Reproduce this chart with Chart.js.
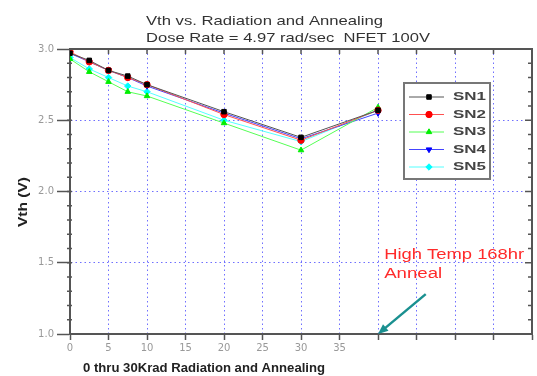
<!DOCTYPE html>
<html>
<head>
<meta charset="utf-8">
<script src="https://cdn.jsdelivr.net/npm/chart.js@4/dist/chart.umd.min.js"></script>
<style>
html,body{margin:0;padding:0;background:#fff;}
#wrap{width:537px;height:376px;position:relative;}
</style>
</head>
<body>
<div id="wrap"><canvas id="c" width="537" height="376"></canvas></div>
<script>
// Dose / anneal positions (krad; 40 = high-temp anneal)
const doses = [0, 2.5, 5, 7.5, 10, 20, 30, 40];
const sn1 = [2.97, 2.92, 2.85, 2.81, 2.75, 2.56, 2.38, 2.57];
const sn2 = [2.98, 2.91, 2.85, 2.80, 2.75, 2.54, 2.36, 2.57];
const sn3 = [2.93, 2.84, 2.77, 2.70, 2.67, 2.48, 2.29, 2.59];
const sn4 = [2.97, 2.91, 2.85, 2.80, 2.74, 2.55, 2.37, 2.55];
const sn5 = [2.94, 2.86, 2.80, 2.74, 2.70, 2.50, 2.35, 2.57];
const seriesNames = ['SN1', 'SN2', 'SN3', 'SN4', 'SN5'];
const xTickLabels = ['0', '5', '10', '15', '20', '25', '30', '35'];
const titleLines = ['Vth vs. Radiation and Annealing', 'Dose Rate = 4.97 rad/sec  NFET 100V'];
const xTitle = '0 thru 30Krad Radiation and Annealing';
const yTitle = 'Vth (V)';
const annoTextLines = ['High Temp 168hr', 'Anneal'];
const annoTextPos = [[40.8, 1.55], [40.8, 1.42]];
const annoArrow = [[46.2, 1.28], [40, 1.0]];

const colors = ['#000000', '#ff0000', '#00ee00', '#0000ff', '#00ffff'];
const lineColors = ['#555555', '#ff5050', '#55ff55', '#4444ff', '#55ffff'];
const styles = ['rect', 'circle', 'triangle', 'triangle', 'rectRot'];
const rots = [0, 0, 0, 180, 0];
const allSeries = [sn1, sn2, sn3, sn4, sn5];

const datasets = allSeries.map((s, i) => ({
  label: seriesNames[i],
  data: s.map((v, j) => ({x: doses[j], y: v})),
  borderColor: lineColors[i],
  backgroundColor: colors[i],
  pointBackgroundColor: colors[i],
  pointBorderColor: colors[i],
  pointStyle: styles[i],
  rotation: rots[i],
  pointRadius: 3.2,
  borderWidth: 1,
  tension: 0
}));

// draw text stretched horizontally to a given width
function fitText(ctx, text, x, y, w, font) {
  ctx.save();
  ctx.font = font;
  const m = ctx.measureText(text).width;
  ctx.translate(x, y);
  ctx.scale(w / m, 1);
  ctx.textAlign = 'left';
  ctx.textBaseline = 'middle';
  ctx.fillText(text, 0, 0);
  ctx.restore();
}

const FONT = '"Liberation Sans", Arial, sans-serif';

const decor = {
  id: 'decor',
  afterDraw(chart) {
    const ctx = chart.ctx, a = chart.chartArea;
    const xs = chart.scales.x, ys = chart.scales.y;
    ctx.save();
    // frame top & right
    ctx.strokeStyle = '#555';
    ctx.lineWidth = 2;
    ctx.beginPath();
    ctx.moveTo(a.left, a.top); ctx.lineTo(a.right, a.top); ctx.lineTo(a.right, a.bottom);
    ctx.stroke();
    // top ticks
    ctx.lineWidth = 1.5;
    for (let v = 5; v < 60; v += 5) {
      const px = xs.getPixelForValue(v);
      ctx.beginPath(); ctx.moveTo(px, a.top); ctx.lineTo(px, a.top + 5); ctx.stroke();
    }
    // minor y ticks left & right, right major ticks
    for (let k = 11; k < 30; k++) {
      const v = k / 10;
      const py = ys.getPixelForValue(v);
      const major = (k % 5 === 0);
      ctx.beginPath(); ctx.moveTo(a.left - 3, py); ctx.lineTo(a.left + 2, py); ctx.stroke();
      ctx.beginPath(); ctx.moveTo(a.right - (major ? 7 : 4), py); ctx.lineTo(a.right, py); ctx.stroke();
    }
    // titles
    ctx.fillStyle = '#333';
    fitText(ctx, titleLines[0], 146, 21, 237, '13px ' + FONT);
    fitText(ctx, titleLines[1], 146, 38, 284, '13px ' + FONT);
    // x axis title
    ctx.fillStyle = '#222';
    fitText(ctx, xTitle, 83, 369, 242, 'bold 12px ' + FONT);
    // y axis title
    ctx.save();
    ctx.translate(23, 227);
    ctx.rotate(-Math.PI / 2);
    fitText(ctx, yTitle, 0, 0, 50, 'bold 13px ' + FONT);
    ctx.restore();
    // annotation text
    ctx.fillStyle = '#ff2a2a';
    const annoW = [140, 58];
    annoTextLines.forEach((t, i) => {
      fitText(ctx, t, xs.getPixelForValue(annoTextPos[i][0]), ys.getPixelForValue(annoTextPos[i][1]), annoW[i], '14px ' + FONT);
    });
    // arrow
    const x1 = xs.getPixelForValue(annoArrow[0][0]), y1 = ys.getPixelForValue(annoArrow[0][1]);
    const x2 = xs.getPixelForValue(annoArrow[1][0]), y2 = ys.getPixelForValue(annoArrow[1][1]);
    const ang = Math.atan2(y2 - y1, x2 - x1);
    ctx.strokeStyle = '#1a9090';
    ctx.fillStyle = '#1a9090';
    ctx.lineWidth = 2.5;
    ctx.beginPath(); ctx.moveTo(x1, y1);
    ctx.lineTo(x2 - 8 * Math.cos(ang), y2 - 8 * Math.sin(ang)); ctx.stroke();
    ctx.beginPath();
    ctx.moveTo(x2, y2);
    ctx.lineTo(x2 - 11 * Math.cos(ang - 0.4), y2 - 11 * Math.sin(ang - 0.4));
    ctx.lineTo(x2 - 11 * Math.cos(ang + 0.4), y2 - 11 * Math.sin(ang + 0.4));
    ctx.closePath(); ctx.fill();
    // legend
    const bx = 404, by = 83, bw = 86, bh = 96;
    ctx.fillStyle = '#fff';
    ctx.fillRect(bx, by, bw, bh);
    ctx.strokeStyle = '#777';
    ctx.lineWidth = 2;
    ctx.strokeRect(bx, by, bw, bh);
    chart.data.datasets.forEach((ds, i) => {
      const yy = 97 + i * 17.5;
      ctx.strokeStyle = ds.borderColor;
      ctx.lineWidth = 1;
      ctx.beginPath(); ctx.moveTo(409, yy); ctx.lineTo(444, yy); ctx.stroke();
      ctx.fillStyle = ds.pointBackgroundColor;
      ctx.strokeStyle = ds.pointBorderColor;
      Chart.helpers.drawPoint(ctx, {pointStyle: ds.pointStyle, rotation: ds.rotation, radius: 3.2, borderWidth: 1}, 429, yy);
      ctx.fillStyle = '#444';
      fitText(ctx, ds.label, 453, yy, 33, 'bold 11px ' + FONT);
    });
    ctx.restore();
  }
};

const tickFont = {size: 10, family: '"DejaVu Sans"'};

new Chart(document.getElementById('c'), {
  type: 'line',
  data: {datasets},
  options: {
    responsive: false,
    animation: false,
    layout: {padding: {top: 49, right: 1, left: 0, bottom: 0}},
    plugins: {legend: {display: false}, title: {display: false}, tooltip: {enabled: false}},
    scales: {
      x: {
        type: 'linear', min: 0, max: 60,
        afterFit: s => { s.height = 42; },
        ticks: {
          stepSize: 5, padding: 2, maxRotation: 0, autoSkip: false,
          color: '#999', font: tickFont,
          callback: v => { const i = Math.round(v / 5); return i < xTickLabels.length ? xTickLabels[i] : ''; }
        },
        grid: {
          color: '#6f6fff', lineWidth: 1,
          tickColor: '#555', tickBorderDash: [], tickLength: 6, tickWidth: 1.5
        },
        border: {color: '#555', width: 2, dash: [1.5, 3]}
      },
      y: {
        min: 1, max: 3,
        afterFit: s => { s.width = 70; },
        ticks: {
          stepSize: 0.5, padding: 3,
          color: '#999', font: tickFont,
          callback: v => Number(v).toFixed(1)
        },
        grid: {
          color: '#6f6fff', lineWidth: 1,
          tickColor: '#555', tickBorderDash: [], tickLength: 13, tickWidth: 1.5
        },
        border: {color: '#555', width: 2, dash: [1.5, 3]}
      }
    }
  },
  plugins: [decor]
});
</script>
</body>
</html>
